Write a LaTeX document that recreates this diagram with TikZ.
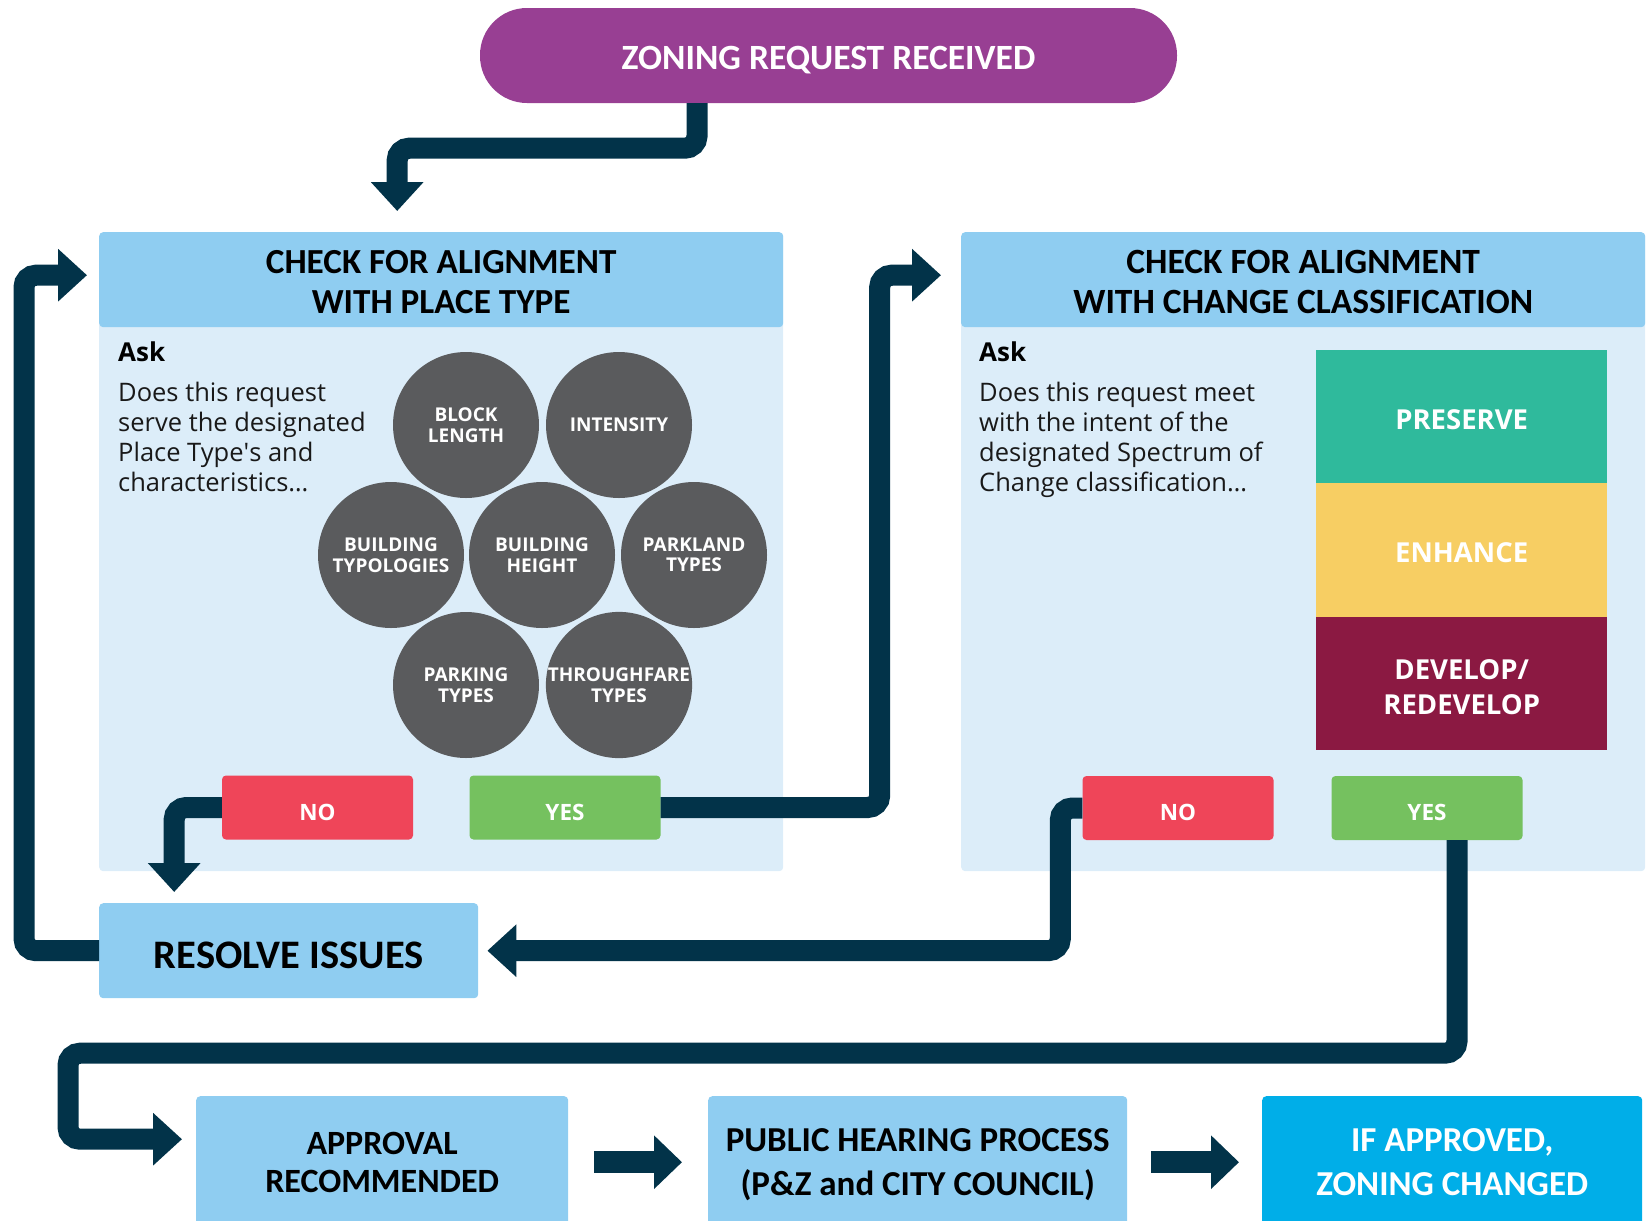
\documentclass[tikz,border=0pt]{standalone}
\usepackage{fontspec}
\setmainfont{Open Sans}
\newfontfamily\hfont{Carlito}
\usetikzlibrary{arrows.meta,calc}

\definecolor{navy}{HTML}{023349}
\definecolor{plum}{HTML}{983F93}
\definecolor{headblue}{HTML}{8FCDF1}
\definecolor{paleblue}{HTML}{DCEDF9}
\definecolor{noRed}{HTML}{EF4559}
\definecolor{yesGreen}{HTML}{75C15F}
\definecolor{discGrey}{HTML}{5A5B5D}
\definecolor{preserveC}{HTML}{2FBA9C}
\definecolor{enhanceC}{HTML}{F7CE63}
\definecolor{developC}{HTML}{8B1942}
\definecolor{finalC}{HTML}{00AEE8}

\begin{document}
\begin{tikzpicture}[x=1pt,y=-1pt,
  flow/.style={draw=navy, line width=21pt, rounded corners=12pt, line cap=butt,
    -{Triangle[width=51pt,length=29pt]}},
  pill/.style={fill=plum, rounded corners=47pt, minimum width=697pt, minimum height=95pt,
    inner sep=0pt, text=white, text height=28pt, text depth=0pt,
    font=\hfont\bfseries\fontsize{35.5}{42}\selectfont},
  panel/.style={fill=paleblue, rounded corners=4pt, anchor=north west,
    minimum width=684pt, minimum height=639pt, inner sep=0pt},
  head/.style={fill=headblue, rounded corners=4pt, anchor=north west,
    minimum width=684pt, minimum height=95pt, inner sep=0pt, align=center, text=black,
    font=\hfont\bfseries\fontsize{35.2}{40}\selectfont},
  ask/.style={anchor=base west, inner sep=0pt, text=black,
    font=\bfseries\fontsize{26}{30}\selectfont},
  query/.style={anchor=north west, inner sep=0pt, align=left, text=black!90,
    font=\fontsize{25.5}{30}\selectfont},
  disc/.style={circle, fill=discGrey, minimum size=146pt, inner sep=0pt, align=center,
    text=white, font=\bfseries\fontsize{19}{20.5}\selectfont},
  btn/.style={rounded corners=4pt, minimum width=191pt, minimum height=64pt, inner sep=0pt,
    text=white, text height=25pt, text depth=0pt, font=\bfseries\fontsize{22.5}{26}\selectfont},
  band/.style={anchor=north west, minimum width=291pt, inner sep=0pt, align=center,
    text=white, font=\bfseries\fontsize{27.5}{35}\selectfont},
  stepbox/.style={fill=headblue, rounded corners=4pt, anchor=north west, inner sep=0pt,
    align=center, text=black, font=\hfont\bfseries\fontsize{35}{44}\selectfont},
  thin/.style={draw=navy, line width=22pt, line cap=butt,
    -{Triangle[width=52pt,length=28pt]}}
]
\useasboundingbox (0,0) rectangle (1647,1221);

% start of the process
\node[pill] (start) at (828.5,55.5) {ZONING REQUEST RECEIVED};

% place type panel
\node[panel] (placeBox) at (99,232) {};
\node[head] (placeHead) at (99,232) {\rule{0pt}{28.5pt}CHECK FOR ALIGNMENT\\WITH PLACE TYPE};
\node[ask] (askL) at (118,361) {Ask};
\node[query] (queryL) at (118,381.5) {Does this request\\serve the designated\\Place Type\textquotesingle s and\\characteristics…};

\node[disc] (blockLen) at (466,425) {BLOCK\\LENGTH};
\node[disc] (intensity) at (619,425) {INTENSITY};
\node[disc] (typologies) at (391,555) {BUILDING\\TYPOLOGIES};
\node[disc] (height) at (542,555) {BUILDING\\HEIGHT};
\node[disc] (parkland) at (694,555) {PARKLAND\\TYPES};
\node[disc] (parking) at (466,685) {PARKING\\TYPES};
\node[disc] (thoroughfare) at (619,685) {THROUGHFARE\\TYPES};

\node[btn, fill=noRed] (noL) at (317.5,807.5) {NO};
\node[btn, fill=yesGreen] (yesL) at (565,807.5) {YES};

% change classification panel
\node[panel] (changeBox) at (961,232) {};
\node[head, font=\hfont\bfseries\fontsize{35.5}{40}\selectfont] (changeHead) at (961,232)
  {\rule{0pt}{28.5pt}CHECK FOR ALIGNMENT\\WITH CHANGE CLASSIFICATION};
\node[ask] (askR) at (979,361) {Ask};
\node[query] (queryR) at (979,381.5) {Does this request meet\\with the intent of the\\designated Spectrum of\\Change classification…};

\node[band, fill=preserveC, minimum height=133pt, text height=25pt, text depth=0pt] (preserve) at (1316,350) {PRESERVE};
\node[band, fill=enhanceC, minimum height=134pt, text height=25pt, text depth=0pt] (enhance) at (1316,483) {ENHANCE};
\node[band, fill=developC, minimum height=133pt] (develop) at (1316,617) {\rule{0pt}{26.5pt}DEVELOP/\\REDEVELOP};

\node[btn, fill=noRed] (noR) at (1178,808) {NO};
\node[btn, fill=yesGreen] (yesR) at (1427,808) {YES};

% outcomes
\node[stepbox, minimum width=379pt, minimum height=95pt, text height=35pt, text depth=0pt,
  font=\hfont\bfseries\fontsize{40.5}{45}\selectfont] (resolve) at (99,903) {RESOLVE ISSUES};
\node[stepbox, minimum width=372pt, minimum height=132pt,
  font=\hfont\bfseries\fontsize{34}{38}\selectfont] (approval) at (196,1096) {APPROVAL\\RECOMMENDED};
\node[stepbox, minimum width=419pt, minimum height=132pt] (public) at (708,1096)
  {\rule{0pt}{28pt}PUBLIC HEARING PROCESS\\(P\&Z and CITY COUNCIL)};
\node[stepbox, fill=finalC, text=white, minimum width=380pt, minimum height=132pt] (ifapp) at (1262,1096)
  {IF APPROVED,\\ZONING CHANGED};

% connectors
\draw[flow] ($(start.south)+(-131.5,0)$) -- ++(0,45) -| ($(placeHead.north)+(-44,-21)$);
\draw[flow] (resolve.west) -- ++(-75,0) |- ($(placeHead.west)+(-12,-4.5)$);
\draw[flow] (noL.west) -| ($(resolve.north)+(-114.5,-11)$);
\draw[flow] (yesL.east) -- ++(219,0) |- ($(changeHead.west)+(-20,-4.5)$);
\draw[flow] (noR.west) -- ++(-22,0) |- ($(resolve.east)+(9,0)$);
\draw[flow] ($(yesR.south)+(30,0)$) -- ++(0,213) -- ++(-1389,0) |- ($(approval.west)+(-14,-23)$);
\draw[thin] ($(approval.east)+(26,0)$) -- ($(public.west)+(-26,0)$);
\draw[thin] ($(public.east)+(24,0)$) -- ($(ifapp.west)+(-23,0)$);
\end{tikzpicture}
\end{document}
